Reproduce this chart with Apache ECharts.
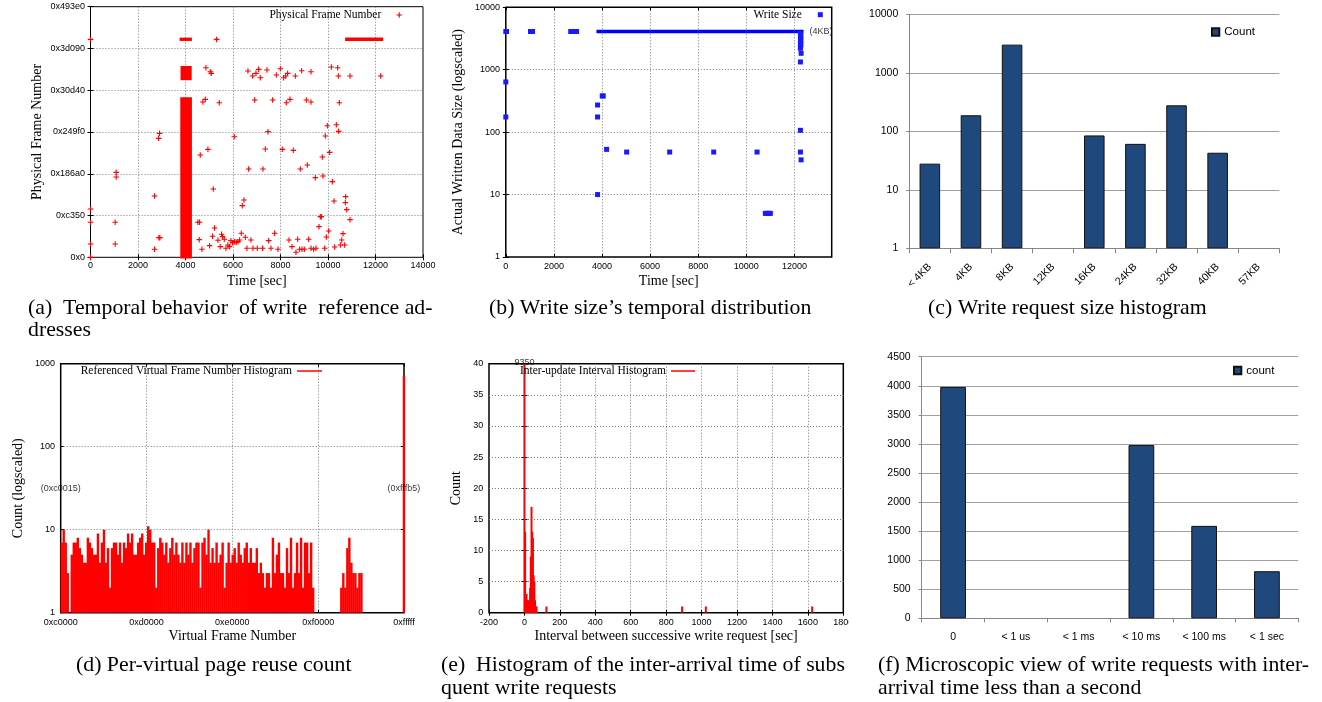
<!DOCTYPE html>
<html><head><meta charset="utf-8">
<script src="https://cdn.jsdelivr.net/npm/echarts@6/dist/echarts.min.js"></script>
<style>html,body{margin:0;padding:0;background:#fff}#c{width:1322px;height:702px}</style>
</head><body><div id="c"></div>
<script>
// ---------------- DATA ----------------
// (a) physical frame number vs time  [time sec, frame number]
const aPoints = [
[0,57840],[0,41880],[0,15960],[0,0],[0,260880],
[1081,101720],[1081,96130],[1039,41880],[1039,15960],
[2697,73400],[2697,9570],[2907,148390],[2865,142410],[2879,23540],[2920,23540],
[4522,41880],[4593,41880],[4579,21140],[4621,122460],[4691,9570],[4733,185890],[4832,189080],[4860,226970],[4944,129240],
[5042,222190],[5084,220200],[5014,13960],[5140,25130],[5169,81770],[5225,35100],[5309,260880],[5365,20340],[5421,185090],
[5463,12760],[5520,27520],[5562,24730],[5632,21540],[5702,10770],[5787,14760],[5857,12760],[5913,19950],[5983,17550],
[6053,144400],[6067,18750],[6138,17950],[6208,18750],[6278,20740],[6348,28720],[6390,61830],[6460,68610],[6517,23930],
[6587,10770],[6657,105710],[6629,222990],[6755,20740],[6826,217000],[6840,10770],[6910,188280],[6966,220190],[7022,10770],
[7079,224980],[7149,215010],[7247,10770],[7262,105710],[7360,129640],[7430,224180],[7472,150390],[7501,19950],[7599,10770],
[7669,188280],[7753,28720],[7823,218200],[7894,9570],[7992,225780],[8076,129240],[8132,215010],[8216,217000],[8244,185090],
[8300,220190],[8357,20740],[8399,189080],[8483,12760],[8539,128050],[8624,217000],[8652,5980],[8722,21540],[8806,9570],
[8834,105710],[8891,223380],[8905,9570],[9003,9570],[9087,188280],[9129,110500],[9185,21540],[9284,222190],[9284,185890],
[9284,10770],[9396,9570],[9466,95340],[9494,10770],[9621,36700],[9677,48670],[9720,48670],[9761,120070],[9789,97330],[9860,10770],
[9888,145200],[9930,24330],[9972,157570],[10028,31510],[10070,125650],[10140,227770],[10182,90550],[10253,67410],[10281,12370],
[10351,158760],[10407,226970],[10435,217000],[10449,150780],[10477,185090],[10520,14760],[10576,20740],[10632,28320],[10702,14760],
[10730,65420],[10744,72600],[10786,57040],[10927,45080],[10927,217000],[12219,217000]
];
// (a) regions so densely hit that the markers merge: [t0, t1, frame0, frame1]
const aDense = [[3780,4270,-1500,191500],[3790,4260,212000,229000],[3750,4270,259000,263000],[10720,12320,259000,263000]];

// (b) write size vs time [time sec, bytes]
const bPoints = [
[0,4096],[30,4096],[0,637],[0,175],[1026,4096],[1110,4096],[2700,4096],[2780,4096],[2860,4096],[2940,4096],
[3815,272],[3815,175],[3815,10],[4010,380],[4052,380],[4190,53],[5024,48],[6813,48],[8644,48],[10447,48],
[10790,5],[10860,5],[10930,5],[11000,5],[12250,107],[12250,48],[12278,36],[12250,1331],[12278,1833],[12250,2204],
[12250,3800],[12270,3500],[12250,3200],[12270,2950],[12250,2700],[12270,2500],[12250,2300]
];
const bDense = [[3770,12380,3830,4380]];
const bNote = [[13106,4096,'(4KB)']];

// (c) write request size histogram
const cCategories = ['< 4KB','4KB','8KB','12KB','16KB','24KB','32KB','40KB','57KB'];
const cCounts = [28,188,3030,null,85,61,278,43,null];

// (d) per-virtual-page reuse count histogram
const dBinStart = 0xc0000;
const dBinWidth = 0x600;
const dBinCounts = [
7,10,7,3,null,5,7,7,8,6, 5,4,4,8,7,6,5,5,9,4,
7,10,4,6,2,6,7,7,5,7, 4,7,6,9,7,9,5,5,7,8,
9,5,7,11,10,7,7,2,6,8, 7,5,7,4,6,8,5,7,5,4,
7,4,7,5,7,4,6,7,7,2, 7,8,5,10,4,6,4,7,4,5,
7,2,4,7,4,5,6,4,7,5, 4,6,7,4,6,4,4,6,3,4,
3,2,3,3,2,8,3,5,7,3, 3,2,6,3,8,2,3,7,3,8,
2,7,7,3,7,2,null,null,null,null, null,null,null,null,null,null,null,null,null,2,
3,2,6,8,4,3,3,2,3,3
];
const dSpike = [[0xfffb5, 711]];
const dNotes = [[0xc0015, 31, '(0xc0015)'], [0xfffb5, 31, '(0xfffb5)']];

// (e) inter-update interval histogram
const eIntervals = [0,4,8,12,16,20,24,28,32,36,40,44,48,52,56,60,64,68,124,890,1024,1624];
const eCounts    = [9350,13,3,3,2,2,2,1,4,9,17,13,12,6,5,2,1,1,1,1,1,1];

// (f) write requests with inter-arrival < 1 s
const fCategories = ['0','< 1 us','< 1 ms','< 10 ms','< 100 ms','< 1 sec'];
const fCounts = [3980,0,0,2980,1590,810];

// ---------------- STYLE / LAYOUT ----------------
const SERIF = '"Liberation Serif","DejaVu Serif",serif';
const SANS = '"Liberation Sans","DejaVu Sans",sans-serif';
const RED = '#ff0000', BLUE = '#0000ff', XLBLUE = '#1f497d', XLGRAY = '#868686';
const PLUS = 'path://M4,0h2v4h4v2h-4v4h-2v-4h-4v-2h4z';
const SQUARE = 'path://M0,0h10v10h-10z';

function merge(a, b) {
  const out = Object.assign({}, a);
  for (const k in b) {
    const bv = b[k], av = a[k];
    if (bv && typeof bv === 'object' && !Array.isArray(bv) && av && typeof av === 'object' && !Array.isArray(av)) out[k] = merge(av, bv);
    else out[k] = bv;
  }
  return out;
}
const hex = v => '0x' + Math.round(v).toString(16);
const plain = v => String(Math.round(v));

const gridBoxes = [
  {left:90.5, top:6.7, width:332.5, height:250.6, borderWidth:1},
  {left:505.8, top:7.3, width:325.9, height:249.7, borderWidth:1.5},
  {left:909.3, top:14.3, width:370, height:234, show:false},
  {left:60.7, top:363.7, width:343.3, height:249, borderWidth:1.5},
  {left:489, top:363.7, width:354.3, height:249, borderWidth:1.5},
  {left:921.7, top:356.7, width:376.6, height:261.6, show:false}
];
const grid = gridBoxes.map(g => Object.assign({show:true, borderColor:'#000', backgroundColor:'transparent', containLabel:false, outerBoundsMode:'none'}, g));

const gnu = {
  axisLine:{show:false},
  axisTick:{show:true, inside:true, length:3, lineStyle:{color:'#000', width:1}},
  axisLabel:{color:'#000', fontFamily:SANS, fontSize:9},
  splitLine:{show:true, showMinLine:false, showMaxLine:false, lineStyle:{color:'#7a7a7a', type:[1,2], width:1}},
  nameLocation:'middle', nameMoveOverlap:false,
  nameTextStyle:{fontFamily:SERIF, fontSize:14, color:'#000'}
};
const mirror = {axisLine:{show:false}, axisTick:{show:true, inside:true, length:3, lineStyle:{color:'#000', width:1}}, axisLabel:{show:false}, splitLine:{show:false}};
const xl = {
  axisLine:{show:true, lineStyle:{color:XLGRAY, width:1}},
  axisTick:{show:true, inside:false, length:4, lineStyle:{color:XLGRAY, width:1}},
  axisLabel:{color:'#000', fontFamily:SANS, fontSize:10.5},
  splitLine:{show:false}
};

const sAX = {type:'value', min:0, max:14000, interval:2000};
const sAY = {type:'value', min:0, max:300000, interval:50000};
const sBX = {type:'value', min:0, max:13550, interval:2000};
const sBY = {type:'log', logBase:10, min:1, max:10000};
const sDX = {type:'value', min:0xc0000, max:0xfffff, interval:0x10000};
const sDY = {type:'log', logBase:10, min:1, max:1000};
const sEX = {type:'value', min:-200, max:1800, interval:200};
const sEY = {type:'value', min:0, max:40, interval:5};

const xAxis = [
  merge(gnu, Object.assign({gridIndex:0, position:'bottom', name:'Time [sec]', nameGap:17, axisLabel:{margin:4, formatter:plain}}, sAX)),
  merge(gnu, Object.assign({gridIndex:1, position:'bottom', name:'Time [sec]', nameGap:17, axisLabel:{margin:5, showMaxLabel:false, formatter:plain}}, sBX)),
  merge(xl, {gridIndex:2, type:'category', data:cCategories, position:'bottom', axisTick:{length:5}, axisLabel:{interval:0, rotate:45, margin:17}}),
  merge(gnu, Object.assign({gridIndex:3, position:'bottom', name:'Virtual Frame Number', nameGap:16.3, axisLabel:{margin:5.5, formatter:hex}}, sDX)),
  merge(gnu, Object.assign({gridIndex:4, position:'bottom', name:'Interval between successive write request [sec]', nameGap:16.3, axisLabel:{margin:5.5, formatter:plain}}, sEX)),
  merge(xl, {gridIndex:5, type:'category', data:fCategories, position:'bottom', axisLabel:{interval:0, margin:13}}),
  merge(mirror, Object.assign({gridIndex:0, position:'top'}, sAX)),
  merge(mirror, Object.assign({gridIndex:1, position:'top'}, sBX)),
  merge(mirror, Object.assign({gridIndex:3, position:'top'}, sDX)),
  merge(mirror, Object.assign({gridIndex:4, position:'top'}, sEX))
];
const yAxis = [
  merge(gnu, Object.assign({gridIndex:0, position:'left', name:'Physical Frame Number', nameGap:46.5, axisLabel:{margin:5.5, formatter:hex}}, sAY)),
  merge(gnu, Object.assign({gridIndex:1, position:'left', name:'Actual Written Data Size (logscaled)', nameGap:40.5, axisLabel:{margin:5.8, formatter:plain}}, sBY)),
  merge(xl, {gridIndex:2, type:'log', logBase:10, min:1, max:10000, position:'left', axisTick:{length:3}, axisLabel:{margin:11, formatter:plain}, splitLine:{show:true, lineStyle:{color:'#a0a0a0', width:1}}}),
  merge(gnu, Object.assign({gridIndex:3, position:'left', name:'Count (logscaled)', nameGap:35.4, axisLabel:{margin:5.7, formatter:plain}}, sDY)),
  merge(gnu, Object.assign({gridIndex:4, position:'left', name:'Count', nameGap:25.3, axisLabel:{margin:5.7}}, sEY)),
  merge(xl, {gridIndex:5, type:'value', min:0, max:4500, interval:500, position:'left', axisTick:{length:3}, axisLabel:{margin:11, formatter:plain}, splitLine:{show:true, lineStyle:{color:'#a0a0a0', width:1}}}),
  merge(mirror, Object.assign({gridIndex:0, position:'right'}, sAY)),
  merge(mirror, Object.assign({gridIndex:1, position:'right'}, sBY)),
  merge(mirror, Object.assign({gridIndex:3, position:'right'}, sDY)),
  merge(mirror, Object.assign({gridIndex:4, position:'right'}, sEY))
];

function rectItem(params, api) {
  const p0 = api.coord([api.value(0), api.value(2)]);
  const p1 = api.coord([api.value(1), api.value(3)]);
  return {type:'rect', shape:{x:Math.min(p0[0],p1[0]), y:Math.min(p0[1],p1[1]), width:Math.abs(p1[0]-p0[0]), height:Math.abs(p1[1]-p0[1])}, style:{fill:api.visual('color')}};
}
const noteLabel = {show:true, position:'inside', formatter:p => p.data[2], color:'#000', fontFamily:SANS, fontSize:9};

const dData = dBinCounts.map((v,i) => [dBinStart + (i + 0.5) * dBinWidth, v]).filter(d => d[1] != null).concat(dSpike);
const eData = eIntervals.map((x,i) => [x, eCounts[i]]);
const ePeakLabel = [[eIntervals[0], sEY.max, String(eCounts[0])]];

const series = [
  {type:'custom', name:'aDense', xAxisIndex:0, yAxisIndex:0, renderItem:rectItem, encode:{x:[0,1], y:[2,3]}, data:aDense, itemStyle:{color:RED}, z:1, silent:true},
  {type:'scatter', name:'Physical Frame Number', xAxisIndex:0, yAxisIndex:0, symbol:PLUS, symbolSize:5.5, itemStyle:{color:RED, opacity:1}, data:aPoints, z:2},
  {type:'custom', name:'bDense', xAxisIndex:1, yAxisIndex:1, renderItem:rectItem, encode:{x:[0,1], y:[2,3]}, data:bDense, itemStyle:{color:BLUE}, z:1, silent:true},
  {type:'scatter', name:'Write Size', xAxisIndex:1, yAxisIndex:1, symbol:SQUARE, symbolSize:5, itemStyle:{color:'#1a1aff', opacity:1}, data:bPoints, z:2},
  {type:'scatter', name:'bNote', xAxisIndex:1, yAxisIndex:1, symbolSize:0, label:noteLabel, data:bNote, z:3, silent:true},
  {type:'bar', name:'Count', xAxisIndex:2, yAxisIndex:2, barCategoryGap:'50%', itemStyle:{color:XLBLUE, borderColor:'#111', borderWidth:1}, data:cCounts.map(v => v == null ? '-' : v)},
  {type:'bar', name:'Referenced Virtual Frame Number Histogram', xAxisIndex:3, yAxisIndex:3, barWidth:2.4, itemStyle:{color:RED}, data:dData},
  {type:'scatter', name:'dNotes', xAxisIndex:3, yAxisIndex:3, symbolSize:0, clip:false, label:noteLabel, data:dNotes, silent:true},
  {type:'bar', name:'Inter-update Interval Histogram', xAxisIndex:4, yAxisIndex:4, barWidth:2, itemStyle:{color:RED}, data:eData},
  {type:'scatter', name:'ePeak', xAxisIndex:4, yAxisIndex:4, symbolSize:0, clip:false, label:{show:true, position:'top', distance:-3, formatter:p => p.data[2], color:'#000', fontFamily:SANS, fontSize:9}, data:ePeakLabel, silent:true},
  {type:'bar', name:'count', xAxisIndex:5, yAxisIndex:5, barCategoryGap:'59%', itemStyle:{color:XLBLUE, borderColor:'#111', borderWidth:1}, data:fCounts.map(v => v > 0 ? v : '-')}
];

const gnuLegendText = {fontFamily:SERIF, fontSize:11.5, color:'#000'};
const xlLegendText = {fontFamily:SANS, fontSize:11.5, color:'#000'};
const legend = [
  {data:['Physical Frame Number'], right:1322-402, top:9, align:'right', itemWidth:26, itemHeight:5.5, padding:0, selectedMode:false, textStyle:gnuLegendText},
  {data:[{name:'Write Size', icon:SQUARE}], right:1322-822.8, top:8.7, align:'right', itemWidth:27, itemHeight:5, padding:0, selectedMode:false, textStyle:gnuLegendText},
  {data:[{name:'Count', icon:'rect'}], left:1211, top:26, itemWidth:7.3, itemHeight:7.3, padding:0, selectedMode:false, textStyle:xlLegendText},
  {data:[{name:'Referenced Virtual Frame Number Histogram', icon:'rect'}], right:1322-322, top:365, align:'right', itemWidth:25, itemHeight:1.5, padding:0, selectedMode:false, textStyle:gnuLegendText},
  {data:[{name:'Inter-update Interval Histogram', icon:'rect'}], right:1322-695, top:365, align:'right', itemWidth:24, itemHeight:1.5, padding:0, selectedMode:false, textStyle:gnuLegendText},
  {data:[{name:'count', icon:'rect'}], left:1233, top:364.5, itemWidth:7.3, itemHeight:7.3, padding:0, selectedMode:false, textStyle:xlLegendText}
];

const captions = [
  ['(a)  Temporal behavior  of write  reference ad-', 28, 308],
  ['dresses', 28, 330],
  ['(b) Write size\u2019s temporal distribution', 489, 308],
  ['(c) Write request size histogram', 928, 308],
  ['(d) Per-virtual page reuse count', 76, 665],
  ['(e)  Histogram of the inter-arrival time of subs', 441, 665],
  ['quent write requests', 441, 688],
  ['(f) Microscopic view of write requests with inter-', 878, 665],
  ['arrival time less than a second', 878, 688]
];
const title = captions.map(([t, x, cy]) => ({text:t, left:x, top:cy - 12, padding:0,
  textStyle:{fontFamily:SERIF, fontSize:21.8, fontWeight:'normal', color:'#000', lineHeight:24}}));

const chart = echarts.init(document.getElementById('c'), null, {renderer:'canvas'});
chart.setOption({
  backgroundColor:'#fff', animation:false,
  title, legend, grid, xAxis, yAxis, series,
  graphic:[{type:'rect', left:848.6, top:600, shape:{width:24, height:40}, style:{fill:'#fff'}, z:100, silent:true}]
});
</script></body></html>
